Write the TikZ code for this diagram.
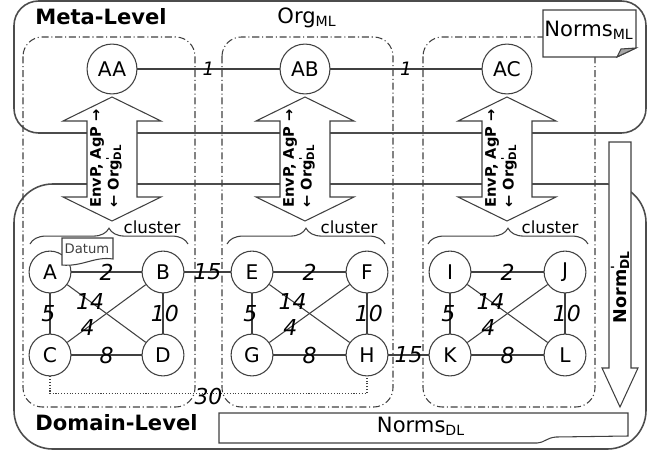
\documentclass[tikz,border=0pt]{standalone}
\usepackage{fontspec}
\setmainfont{DejaVu Sans}
\usetikzlibrary{arrows.meta,calc,decorations.pathreplacing}

\newcommand{\primesub}[1]{\rlap{\textsuperscript{\textquotesingle}}\textsubscript{#1}}

\begin{document}
\begin{tikzpicture}[
  x=0.02cm, y=-0.02cm,
  font=\fontsize{10}{12}\selectfont,
  line width=0.6pt,
  level/.style={draw=black!70, line width=0.9pt, rounded corners=#1},
  clusterbox/.style={draw=black!75, line width=0.6pt,
    dash pattern=on 4pt off 1.6pt on 0.6pt off 1.6pt, rounded corners=11pt},
  agent/.style={circle, draw=black!75, fill=white, minimum size=28.4pt,
    inner sep=0pt, font=\fontsize{11.5}{12}\selectfont},
  obj/.style={circle, draw=black!75, fill=white, minimum size=23.8pt,
    inner sep=0pt, font=\fontsize{11.5}{12}\selectfont},
  link/.style={draw=black!75},
  wt/.style={font=\fontsize{12.5}{13}\selectfont\itshape, inner sep=1pt},
  wtop/.style={font=\fontsize{10.5}{12}\selectfont\itshape, inner sep=1pt},
  bigarrow/.style={draw=black!75, fill=white},
  brace/.style={draw=black!75, decorate, decoration={brace, amplitude=9pt}},
  title/.style={font=\fontsize{12}{14}\selectfont\bfseries, anchor=west},
  note/.style={font=\fontsize{9.5}{10}\selectfont},
  flow/.style={font=\fontsize{8.3}{10}\selectfont\bfseries, rotate=90, inner sep=0pt},
  docbox/.style={draw=black!75, fill=white},
]
  \useasboundingbox (0,0) rectangle (652,450);

  % ===== levels =====
  \draw[level=14pt] (14,1) rectangle (646,133);
  \draw[level=22pt] (14,184) rectangle (646,449);
  \node[title] (meta) at (29,17) {Meta-Level};
  \node[title] (dom) at (29,423) {Domain-Level};
  \node[font=\fontsize{12}{14}\selectfont] (orgml) at (307,18) {Org\textsubscript{ML}};

  % ===== clusters =====
  \draw[clusterbox] (23,37) rectangle (195,407);
  \draw[clusterbox] (222,37) rectangle (393,407);
  \draw[clusterbox] (423,37) rectangle (595,407);

  % ===== norms =====
  \draw[docbox] (543,10) -- (636,10) -- (636,48) -- (617,57) -- (543,57) -- cycle;
  \draw[draw=black!75, fill=black!35] (617,57) -- (621,49) -- (636,48) -- cycle;
  \node[font=\fontsize{12}{14}\selectfont] (normsml) at (589,30) {Norms\textsubscript{ML}};

  \draw[docbox] (219,413) -- (628,413) -- (628,436) -- (556,437)
    .. controls (546,438) and (546,442) .. (537,443) -- (219,443) -- cycle;
  \node[font=\fontsize{12}{14}\selectfont] (normsdl) at (421,426) {Norms\textsubscript{DL}};

  % ===== level arrows =====
  \draw[bigarrow] (112,97) -- ++(49,24) -- ++(-24,0) -- ++(0,76) -- ++(24,0)
    -- ++(-49,24) -- ++(-49,-24) -- ++(24,0) -- ++(0,-76) -- ++(-24,0) -- cycle;
  \draw[bigarrow] (305,97) -- ++(49,24) -- ++(-24,0) -- ++(0,76) -- ++(24,0)
    -- ++(-49,24) -- ++(-49,-24) -- ++(24,0) -- ++(0,-76) -- ++(-24,0) -- cycle;
  \draw[bigarrow] (507,97) -- ++(49,24) -- ++(-24,0) -- ++(0,76) -- ++(24,0)
    -- ++(-49,24) -- ++(-49,-24) -- ++(24,0) -- ++(0,-76) -- ++(-24,0) -- cycle;
  \node[flow, anchor=west, align=left] (pa) at (106,208)
    {EnvP, AgP →\\← Org\primesub{DL}};
  \node[flow, anchor=west, align=left] (pb) at (299,208)
    {EnvP, AgP →\\← Org\primesub{DL}};
  \node[flow, anchor=west, align=left] (pc) at (501,208)
    {EnvP, AgP →\\← Org\primesub{DL}};

  \draw[bigarrow] (609,142) -- (631,142) -- (631,368) -- (638,368) -- (620,407)
    -- (602,368) -- (609,368) -- cycle;
  \node[flow, font=\fontsize{10}{12}\selectfont\bfseries] (normdl) at (620,287) {Norm\primesub{DL}};

  \draw[brace] (30,244) -- (188,244);
  \draw[brace] (227,244) -- (385,244);
  \draw[brace] (428,244) -- (588,244);
  \node[note] (cla) at (152,227) {cluster};
  \node[note] (clb) at (349,227) {cluster};
  \node[note] (clc) at (550,227) {cluster};

  % ===== meta-level agents =====
  \node[agent] (AA) at (112,69) {AA};
  \node[agent] (AB) at (305,69) {AB};
  \node[agent] (AC) at (507,69) {AC};
  \draw[link] (AA) -- node[wtop] (w1) {1} (AB);
  \draw[link] (AB) -- node[wtop] (w2) {1} (AC);

  % ===== domain-level graph =====
  \node[obj] (A) at (50,272) {A};
  \node[obj] (B) at (163,272) {B};
  \node[obj] (C) at (50,355) {C};
  \node[obj] (D) at (163,355) {D};
  \node[obj] (E) at (252,272) {E};
  \node[obj] (F) at (367,272) {F};
  \node[obj] (G) at (252,355) {G};
  \node[obj] (H) at (367,355) {H};
  \node[obj] (I) at (450,272) {I};
  \node[obj] (J) at (565,272) {J};
  \node[obj] (K) at (450,355) {K};
  \node[obj] (L) at (565,355) {L};

  \draw[link] (A) -- node[wt] (wab) {2} (B);
  \draw[link] (A) -- node[wt, xshift=-1pt] (wac) {5} (C);
  \draw[link] (A) -- node[wt, pos=0.29] (wad) {14} (D);
  \draw[link] (C) -- node[wt, pos=0.26] (wcb) {4} (B);
  \draw[link] (B) -- node[wt, xshift=1pt] (wbd) {10} (D);
  \draw[link] (C) -- node[wt] (wcd) {8} (D);

  \draw[link] (E) -- node[wt] (wef) {2} (F);
  \draw[link] (E) -- node[wt, xshift=-1pt] (weg) {5} (G);
  \draw[link] (E) -- node[wt, pos=0.29] (weh) {14} (H);
  \draw[link] (G) -- node[wt, pos=0.26] (wgf) {4} (F);
  \draw[link] (F) -- node[wt, xshift=1pt] (wfh) {10} (H);
  \draw[link] (G) -- node[wt] (wgh) {8} (H);

  \draw[link] (I) -- node[wt] (wij) {2} (J);
  \draw[link] (I) -- node[wt, xshift=-1pt] (wik) {5} (K);
  \draw[link] (I) -- node[wt, pos=0.29] (wil) {14} (L);
  \draw[link] (K) -- node[wt, pos=0.26] (wkj) {4} (J);
  \draw[link] (J) -- node[wt, xshift=1pt] (wjl) {10} (L);
  \draw[link] (K) -- node[wt] (wkl) {8} (L);

  \draw[link] (B) -- node[wt] (wbe) {15} (E);
  \draw[link] (H) -- node[wt] (whk) {15} (K);
  \draw[link, densely dotted] (C.south) -- ++(0,17) -| node[wt, pos=0.25, yshift=-2pt] (wch) {30} (H.south);

  % Datum tag on A
  \draw[docbox] (62,238) -- (113,238) -- (113,259)
    .. controls (95,256) and (82,267) .. (62,265) -- cycle;
  \node[font=\fontsize{7.5}{8}\selectfont, text=black!75] (datum) at (87,249) {Datum};
\end{tikzpicture}
\end{document}
